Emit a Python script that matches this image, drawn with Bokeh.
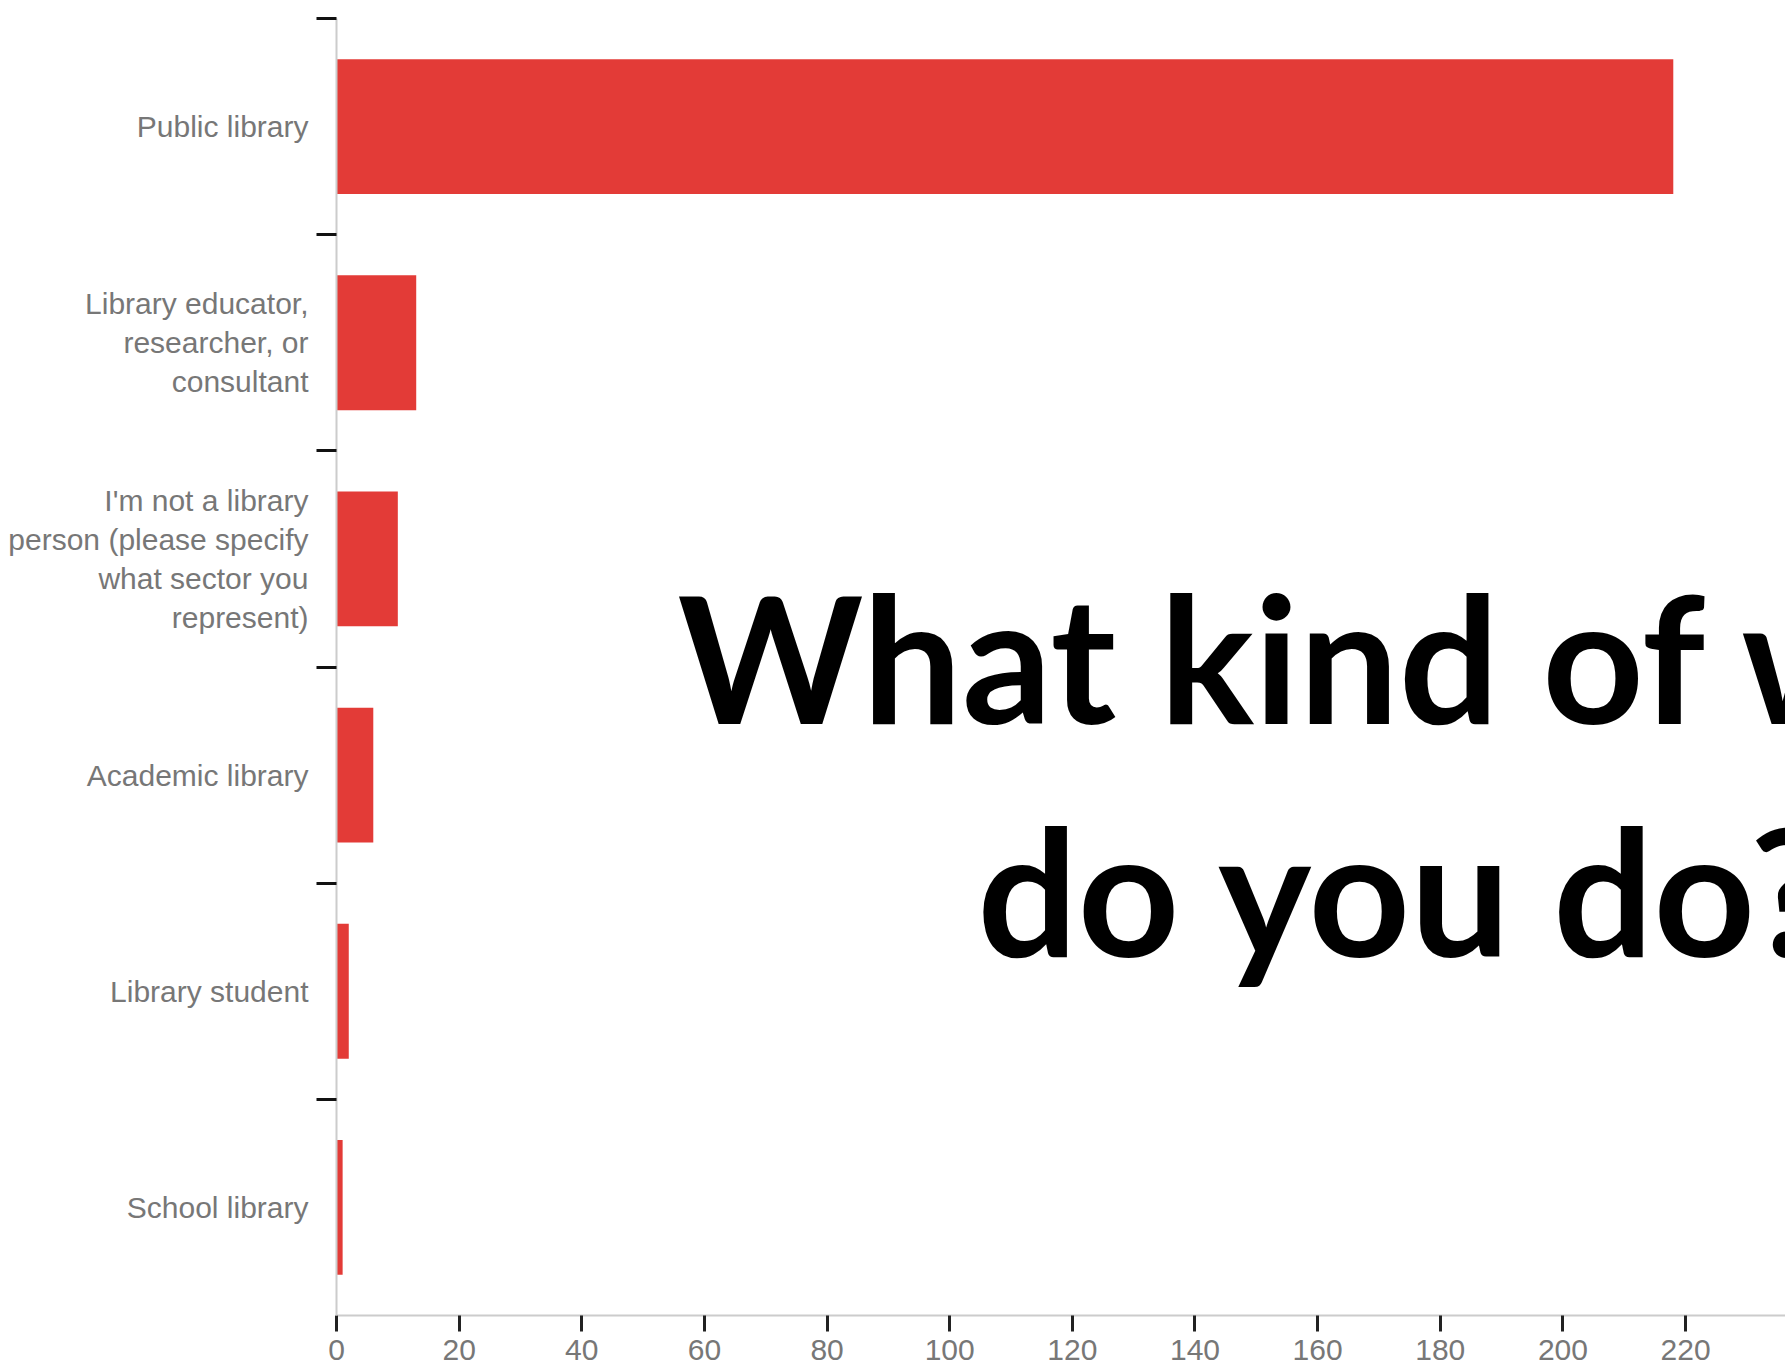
from bokeh.plotting import figure
from bokeh.models import Range1d, FixedTicker, LinearAxis, Label
from bokeh.embed import file_html
from bokeh.resources import INLINE

# ---- data ----
categories = [
    "Public library",
    "Library educator,\nresearcher, or\nconsultant",
    "I'm not a library\nperson (please specify\nwhat sector you\nrepresent)",
    "Academic library",
    "Library student",
    "School library",
]
counts = [218, 13, 10, 6, 2, 1]
x_ticks = [0, 20, 40, 60, 80, 100, 120, 140, 160, 180, 200, 220]
title_lines = ["What kind of work", "do you do?"]

n = len(categories)
centers = [i + 0.5 for i in range(n)]
boundaries = [float(i) for i in range(n)]

LABEL_GREY = "#777777"

p = figure(
    width=1785, height=1370,
    output_backend="svg", toolbar_location=None,
    x_range=Range1d(0, 236.3), y_range=Range1d(n, 0),
    x_axis_type=None, y_axis_type=None,
    min_border_left=336, min_border_right=0,
    min_border_top=18, min_border_bottom=55,
)
p.outline_line_color = None
p.background_fill_color = "white"
p.border_fill_color = "white"

p.hbar(y=centers, left=0, right=counts, height=0.624,
       fill_color="#e33b37", line_color=None)

xaxis = LinearAxis(ticker=FixedTicker(ticks=x_ticks))
xaxis.axis_line_color = "#cccccc"
xaxis.axis_line_width = 2
xaxis.major_tick_line_color = "#222222"
xaxis.major_tick_line_width = 3
xaxis.major_tick_out = 16
xaxis.major_tick_in = 0
xaxis.minor_tick_line_color = None
xaxis.major_label_standoff = 8
xaxis.major_label_text_font = "Liberation Sans"
xaxis.major_label_text_font_size = "30px"
xaxis.major_label_text_color = LABEL_GREY
p.add_layout(xaxis, "below")

# category axis: labels at band centres, tick marks at band boundaries
yaxis = LinearAxis(ticker=FixedTicker(ticks=centers, minor_ticks=boundaries))
yaxis.axis_line_color = "#cccccc"
yaxis.axis_line_width = 2
yaxis.major_tick_line_color = None
yaxis.major_tick_out = 0
yaxis.major_tick_in = 0
yaxis.minor_tick_line_color = "#111111"
yaxis.minor_tick_line_width = 3
yaxis.minor_tick_out = 20
yaxis.minor_tick_in = 0
yaxis.major_label_standoff = 8
yaxis.major_label_overrides = {c: lab for c, lab in zip(centers, categories)}
yaxis.major_label_text_font = "Liberation Sans"
yaxis.major_label_text_font_size = "30px"
yaxis.major_label_text_color = LABEL_GREY
yaxis.major_label_text_line_height = 1.18
p.add_layout(yaxis, "left")

TITLE_SIZE = "177px"
t1 = Label(x=55.6, y=2.946, x_units="data", y_units="data", text=title_lines[0],
           text_font="Lato", text_font_style="bold", text_font_size=TITLE_SIZE,
           text_color="black", text_align="left", text_baseline="alphabetic")
t2 = Label(x=104.5, y=4.024, x_units="data", y_units="data", text=title_lines[1],
           text_font="Lato", text_font_style="bold", text_font_size=TITLE_SIZE,
           text_color="black", text_align="left", text_baseline="alphabetic")
p.add_layout(t1)
p.add_layout(t2)

open("out.html", "w").write(file_html(p, INLINE))
